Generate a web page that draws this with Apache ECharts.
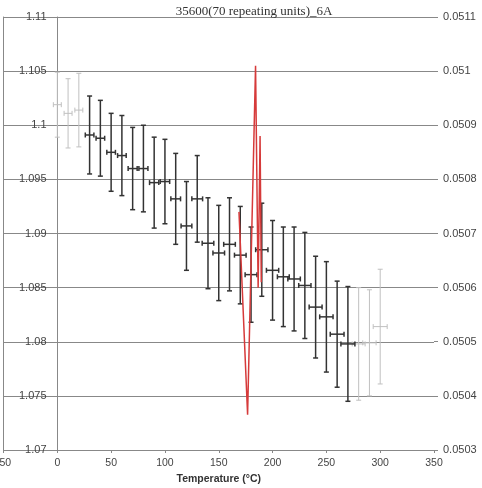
<!DOCTYPE html>
<html>
<head>
<meta charset="utf-8">
<script src="https://cdn.jsdelivr.net/npm/echarts@6/dist/echarts.min.js"></script>
<style>
	html, body { margin: 0; padding: 0; background: #fff; }
	#chart { width: 482px; height: 488px; }
</style>
</head>
<body>
<div id="chart"></div>
<script>
// light grey points (ends of the run)
const lightTemps = [0, 10, 20, 280, 290, 300];
const lightVals = [1.1019, 1.1011, 1.1014, 1.0798, 1.0799, 1.0814];
const lightErrs = [0.0030, 0.0032, 0.0034, 0.0052, 0.0049, 0.0053];
const lightTempErrs = [3.7, 3.7, 3.7, 6, 6.2, 6.5];

// dark points
const darkTemps = [30, 40, 50, 60, 70, 80, 90, 100, 110, 120, 130, 140, 150, 160, 170, 180, 190, 200, 210, 220, 230, 240, 250, 260, 270];
const darkVals = [1.0991, 1.0988, 1.0975, 1.0972, 1.0960, 1.0960, 1.0947, 1.0948, 1.0932, 1.0907, 1.0932, 1.0891, 1.0882, 1.0890, 1.0880, 1.0862, 1.0885, 1.0866, 1.0860, 1.0858, 1.0852, 1.0832, 1.0823, 1.0807, 1.0798];
const darkErrs = [0.0036, 0.0035, 0.0036, 0.0037, 0.0038, 0.0040, 0.0042, 0.0039, 0.0042, 0.0041, 0.0040, 0.0042, 0.0044, 0.0043, 0.0045, 0.0044, 0.0043, 0.0046, 0.0046, 0.0048, 0.0049, 0.0047, 0.0051, 0.0049, 0.0053];
const darkTempErrs = [4, 4, 4, 4, 4.2, 4.2, 4.3, 4.4, 4.5, 5, 5, 5.4, 5.4, 5.4, 5.4, 5.5, 5.7, 5.7, 5.5, 5.8, 5.7, 6, 6.2, 6.4, 6.5];

// red trace on the right axis
const redTemps = [168.8, 176.8, 184.2, 186.6, 188.4, 189.5];
const redVals = [0.05074, 0.050365, 0.05101, 0.05060, 0.05088, 0.05061];

const font = 'Liberation Sans, Arial, sans-serif';

const errorBar = (color, width) => (params, api) => {
	const x = api.value(0);
	const y = api.value(1);
	const dy = api.value(2);
	const dx = api.value(3);
	const top = api.coord([x, y + dy]);
	const bot = api.coord([x, y - dy]);
	const l = api.coord([x - dx, y]);
	const r = api.coord([x + dx, y]);
	const cap = 2.5;
	const style = { stroke: color, lineWidth: width };
	const seg = (x1, y1, x2, y2) => ({ type: 'line', shape: { x1, y1, x2, y2 }, style });
	return {
		type: 'group',
		children: [
			seg(top[0], top[1], bot[0], bot[1]),
			seg(top[0] - cap, top[1], top[0] + cap, top[1]),
			seg(bot[0] - cap, bot[1], bot[0] + cap, bot[1]),
			seg(l[0], l[1], r[0], r[1]),
			seg(l[0], l[1] - cap, l[0], l[1] + cap),
			seg(r[0], r[1] - cap, r[0], r[1] + cap)
		]
	};
};

const chart = echarts.init(document.getElementById('chart'));
chart.setOption({
	animation: false,
	title: {
		text: '35600(70 repeating units)_6A',
		left: 249,
		top: 0,
		textAlign: 'center',
		textStyle: { fontFamily: 'Liberation Serif, DejaVu Serif, serif', fontSize: 13, fontWeight: 'normal', color: '#333' }
	},
	grid: { left: 3.5, right: 48, top: 17, bottom: 38, containLabel: false, outerBoundsMode: 'none' },
	xAxis: {
		type: 'value',
		min: -50,
		max: 350,
		interval: 50,
		name: 'Temperature (°C)',
		nameLocation: 'middle',
		nameGap: 24,
		nameTextStyle: { fontFamily: font, fontSize: 10.5, fontWeight: 'bold', color: '#333' },
		axisLine: { show: true, onZero: false, lineStyle: { color: '#888' } },
		axisTick: { show: true, length: 3, lineStyle: { color: '#888' } },
		axisLabel: { fontFamily: font, fontSize: 10.5, color: '#444', margin: 8 },
		splitLine: { show: false }
	},
	yAxis: [
		{
			type: 'value',
			min: 1.07,
			max: 1.11,
			interval: 0.005,
			position: 'left',
			offset: -54,
			axisLine: { show: true, onZero: false, lineStyle: { color: '#888' } },
			axisTick: { show: false },
			axisLabel: { fontFamily: font, fontSize: 11, color: '#444', margin: 11 },
			splitLine: { show: true, lineStyle: { color: '#888', width: 1 } }
		},
		{
			type: 'value',
			position: 'right',
			min: 0.0503,
			max: 0.0511,
			interval: 0.0001,
			axisLine: { show: false, onZero: false },
			axisTick: { show: true, length: 4, lineStyle: { color: '#888' } },
			axisLabel: { fontFamily: font, fontSize: 11, color: '#444', margin: 9 },
			splitLine: { show: false }
		},
		{
			type: 'value',
			position: 'left',
			min: 1.07,
			max: 1.11,
			axisLine: { show: true, onZero: false, lineStyle: { color: '#888' } },
			axisTick: { show: false },
			axisLabel: { show: false },
			splitLine: { show: false }
		}
	],
	series: [
		{
			type: 'custom',
			name: 'light',
			yAxisIndex: 0,
			encode: { x: 0, y: 1 },
			renderItem: errorBar('#c0c0c0', 1),
			data: lightTemps.map((t, i) => [t, lightVals[i], lightErrs[i], lightTempErrs[i]])
		},
		{
			type: 'custom',
			name: 'dark',
			yAxisIndex: 0,
			encode: { x: 0, y: 1 },
			renderItem: errorBar('#333', 1.5),
			data: darkTemps.map((t, i) => [t, darkVals[i], darkErrs[i], darkTempErrs[i]])
		},
		{
			type: 'line',
			name: 'trace',
			yAxisIndex: 1,
			showSymbol: false,
			lineStyle: { color: '#d63a3a', width: 1.5 },
			itemStyle: { color: '#d63a3a' },
			data: redTemps.map((t, i) => [t, redVals[i]])
		}
	]
});
</script>
</body>
</html>
